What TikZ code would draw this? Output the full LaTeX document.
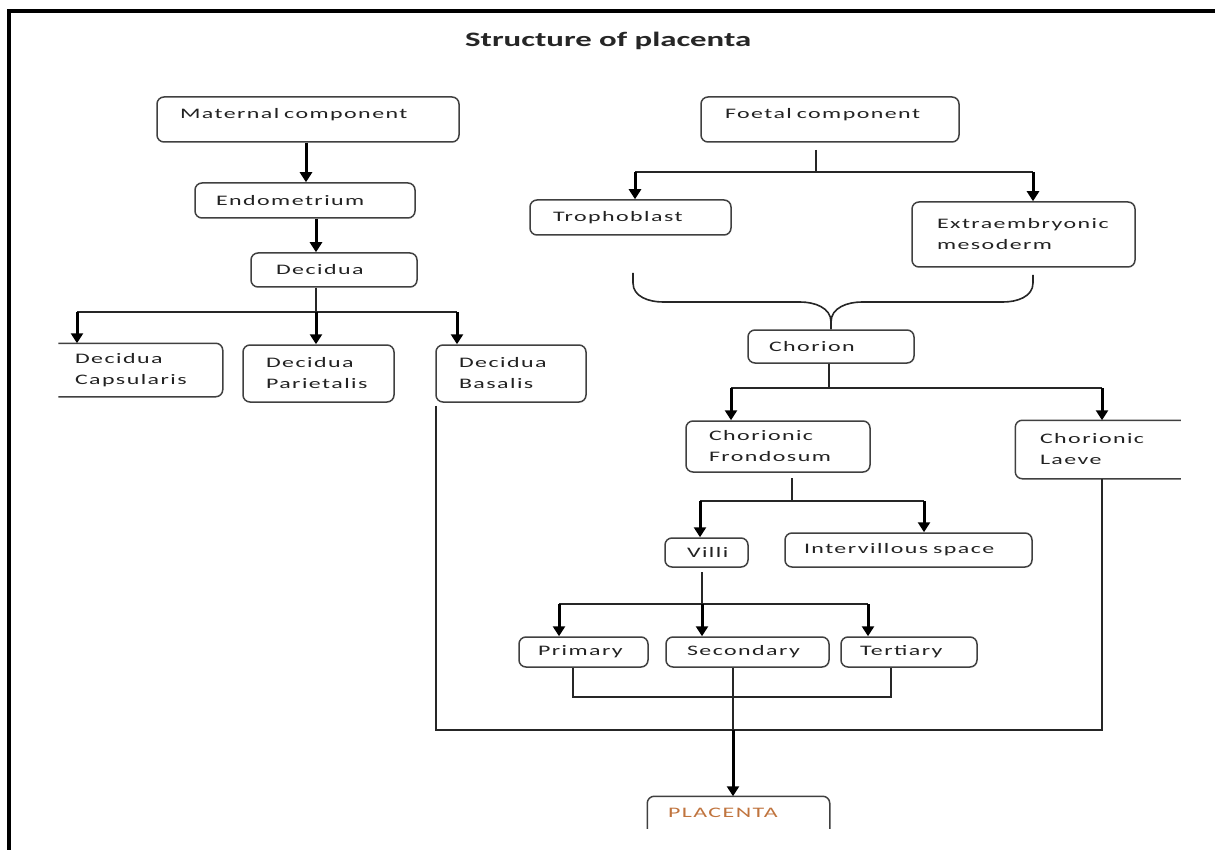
\documentclass[tikz,border=0pt]{standalone}
\usepackage{fontspec}
\usetikzlibrary{arrows.meta}
\newfontfamily\bodyf{Carlito}[FakeStretch=1.65,LetterSpace=10]
\newfontfamily\titlef{Carlito}[FakeStretch=1.6]
\newcommand\mybodyfont{\bodyf\fontsize{14.5}{21}\selectfont\spaceskip=7pt plus 2pt\relax}
\definecolor{txt}{HTML}{222222}
\definecolor{edge}{HTML}{404040}
\definecolor{placc}{HTML}{C0743E}
\begin{document}
\begin{tikzpicture}[x=1pt,y=-1pt,
  bx/.style={draw=edge, line width=1.5pt, rounded corners=7pt, inner ysep=0pt, align=left,
    font=\mybodyfont, text=txt},
  nb/.style={bx, draw=none},
  side/.style={draw=edge, line width=1.5pt, rounded corners=7pt},
  ln/.style={draw=black!85, line width=1.6pt},
  arr/.style={draw=black, line width=3pt, -{Triangle[width=12pt,length=10pt]}},
]
\useasboundingbox (0,0) rectangle (1215,850);
\fill[white] (0,0) rectangle (1215,850);
% frame
\draw[line width=4pt] (8.5,850) -- (8.5,11.5) -- (1215,11.5);
% title
\node[anchor=west, inner sep=0pt, font=\titlef\bfseries\fontsize{20.5}{24}\selectfont, text=black!85] (title) at (465,41) {Structure of placenta};

% maternal side
\node[bx, minimum width=302pt, minimum height=45pt, text width=256pt, inner xsep=23pt, text depth=12pt] (mat) at (308,119.5) {Maternal component};
\node[bx, minimum width=220pt, minimum height=35pt, text width=178pt, inner xsep=21pt] (endo) at (305,200.5) {Endometrium};
\node[bx, minimum width=166pt, minimum height=34pt, text width=116pt, inner xsep=25pt] (dec) at (334,270) {Decidua};
\node[nb, minimum width=163pt, minimum height=52pt, text width=131pt, inner xsep=16pt] (dcap) at (140.5,370) {Decidua\\Capsularis};
\node[bx, minimum width=151pt, minimum height=57pt, text width=105pt, inner xsep=23pt] (dpar) at (318.5,373.5) {Decidua\\Parietalis};
\node[bx, minimum width=150pt, minimum height=57pt, text width=104pt, inner xsep=23pt] (dbas) at (511,373.5) {Decidua\\Basalis};
\draw[side] (dcap.north west) -- (dcap.north east) -- (dcap.south east) -- (dcap.south west);

% foetal side
\node[bx, minimum width=258pt, minimum height=45pt, text width=210pt, inner xsep=24pt, text depth=12pt] (foet) at (830,119.5) {Foetal component};
\node[bx, minimum width=201pt, minimum height=35pt, text width=155pt, inner xsep=23pt] (troph) at (630.5,217.5) {Trophoblast};
\node[bx, minimum width=223pt, minimum height=65pt, text width=173pt, inner xsep=25pt] (extra) at (1023.5,234.5) {Extraembryonic\\mesoderm};
\node[bx, minimum width=166pt, minimum height=33pt, text width=124pt, inner xsep=21pt] (chorion) at (831,346.5) {Chorion};
\node[bx, minimum width=184pt, minimum height=51pt, text width=138pt, inner xsep=23pt] (cfron) at (778,446.5) {Chorionic\\Frondosum};
\node[nb, minimum width=164pt, minimum height=57pt, text width=116pt, inner xsep=24pt] (claeve) at (1098,449.5) {Chorionic\\Laeve};
\draw[side] (claeve.north east) -- (claeve.north west) -- (claeve.south west) -- (claeve.south east);
\node[bx, minimum width=83pt, minimum height=29pt, text width=39pt, inner xsep=22pt] (villi) at (706.5,552.5) {Villi};
\node[bx, minimum width=247pt, minimum height=34pt, text width=209pt, inner xsep=19pt] (inter) at (908.5,550) {Intervillous space};
\node[bx, minimum width=129pt, minimum height=30pt, text width=91pt, inner xsep=19pt] (prim) at (583.5,652) {Primary};
\node[bx, minimum width=163pt, minimum height=30pt, text width=121pt, inner xsep=21pt] (sec) at (747.5,652) {Secondary};
\node[bx, minimum width=136pt, minimum height=30pt, text width=98pt, inner xsep=19pt] (tert) at (909,652) {Tertiary};
\node[nb, minimum width=181pt, minimum height=31pt, text width=141pt, inner xsep=20pt, text=placc] (plac) at (738.5,812.5) {PLACENTA};
\draw[side] (plac.south west) -- (plac.north west) -- (plac.north east) -- (plac.south east);

% maternal connectors
\coordinate (c1) at (306,0);
\coordinate (c2) at (316,0);
\draw[arr] (mat.south -| c1) -- (endo.north -| c1);
\draw[arr] (endo.south -| c2) -- (dec.north -| c2);
\coordinate (jd) at (316,312);
\coordinate (jdl) at (77,312);
\coordinate (jdr) at (457,312);
\draw[ln] (dec.south -| c2) -- (jd);
\draw[ln] (jdl) -- (jdr);
\draw[arr] (jdl) -- (dcap.north -| jdl);
\draw[arr] (jd) -- (dpar.north -| jd);
\draw[arr] (jdr) -- (dbas.north -| jdr);

% foetal connectors
\coordinate (fs) at (816,150);
\coordinate (fj) at (816,172);
\coordinate (fl) at (635,172);
\coordinate (fr) at (1033,172);
\draw[ln] (fs) -- (fj);
\draw[ln] (fl) -- (fr);
\draw[arr] (fl) -- (troph.north -| fl);
\draw[arr] (fr) -- (extra.north -| fr);

% brace joining to chorion
\coordinate (bl) at (633,273);
\coordinate (br) at (1033,275);
\coordinate (bm) at (831,322);
\draw[ln] (bl) -- (633,283) to[out=-90,in=180] (663,302) -- (800,302) to[out=0,in=90] (bm) -- (chorion.north -| bm);
\draw[ln] (br) -- (1033,283) to[out=-90,in=0] (1003,302) -- (862,302) to[out=180,in=90] (bm);

% chorion branches
\coordinate (cj) at (829,388);
\coordinate (cl) at (731,388);
\coordinate (cr) at (1102,388);
\draw[ln] (chorion.south -| cj) -- (cj);
\draw[ln] (cl) -- (cr);
\draw[arr] (cl) -- (cfron.north -| cl);
\draw[arr] (cr) -- (claeve.north -| cr);

% frondosum branches
\coordinate (fs2) at (792,478);
\coordinate (fj2) at (792,501);
\coordinate (fl2) at (700,501);
\coordinate (fr2) at (924,501);
\draw[ln] (fs2) -- (fj2);
\draw[ln] (fl2) -- (fr2);
\draw[arr] (fl2) -- (villi.north -| fl2);
\draw[arr] (fr2) -- (inter.north -| fr2);

% villi branches
\coordinate (vs) at (702,572);
\coordinate (vj) at (702,604);
\coordinate (vl) at (559,604);
\coordinate (vr) at (868,604);
\draw[ln] (vs) -- (vj);
\draw[ln] (vl) -- (vr);
\draw[arr] (vj) -- (sec.north -| vj);
\draw[arr] (vl) -- (prim.north -| vl);
\draw[arr] (vr) -- (tert.north -| vr);

% bracket under primary/tertiary
\coordinate (pb) at (573,697);
\coordinate (tb) at (891,697);
\draw[ln] (prim.south -| pb) -- (pb) -- (tb) -- (tert.south -| tb);

% outer loop and placenta
\coordinate (ol) at (436,730);
\coordinate (or) at (1102,730);
\coordinate (sj) at (733,730);
\draw[ln] ([yshift=-3pt]dbas.south -| ol) -- (ol) -- (or) -- (claeve.south -| or);
\draw[ln] (sec.south -| sj) -- (sj);
\draw[arr] (sj) -- (plac.north -| sj);
\end{tikzpicture}
\end{document}
